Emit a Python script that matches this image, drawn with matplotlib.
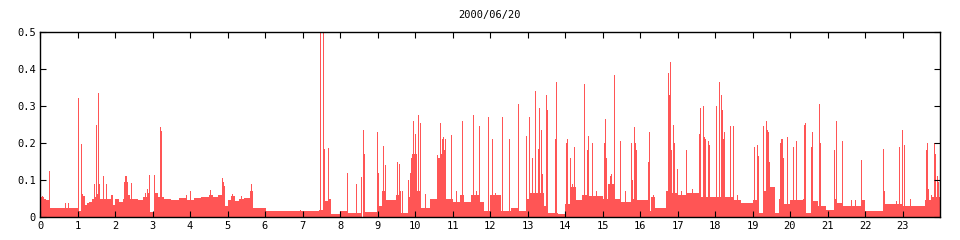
import matplotlib
matplotlib.use("Agg")
import matplotlib.pyplot as plt

title = "2000/06/20"
hour_ticks = list(range(24))
value_ticks = [0, 0.1, 0.2, 0.3, 0.4, 0.5]
value_labels = ["0", "0.1", "0.2", "0.3", "0.4", "0.5"]

# baseline level: (start hour, end hour, value)
seg_start = [0.00, 0.02, 0.10, 0.15, 0.25, 1.01, 1.09, 1.15, 1.20, 1.25, 1.30, 1.38, 1.43, 1.48, 1.51,
             1.60, 1.65, 1.80, 1.90, 1.95, 2.00, 2.10, 2.20, 2.24, 2.35, 2.40, 2.60, 2.75, 2.85, 2.93,
             3.04, 3.15, 3.30, 3.50, 3.70, 3.90, 4.10, 4.30, 4.50, 4.60, 4.75, 4.85, 4.92, 5.00, 5.10,
             5.20, 5.30, 5.45, 5.60, 5.68, 6.02, 7.45, 7.60, 7.67, 7.75, 8.00, 8.18, 8.22, 8.60, 9.00,
             9.05, 9.12, 9.20, 9.50, 9.60, 9.80, 9.92, 10.05, 10.15, 10.40, 10.60, 10.70, 10.80, 11.00,
             11.20, 11.30, 11.50, 11.70, 11.85, 12.00, 12.30, 12.55, 12.75, 12.95, 13.05, 13.45, 13.55,
             13.80, 14.00, 14.15, 14.30, 14.45, 14.60, 15.00, 15.15, 15.30, 15.50, 15.75, 15.90, 16.20,
             16.30, 16.40, 16.70, 16.85, 17.00, 17.25, 17.60, 17.90, 18.50, 18.70, 19.00, 19.15, 19.30,
             19.45, 19.60, 19.70, 19.80, 20.00, 20.35, 20.40, 20.55, 20.75, 20.95, 21.20, 21.25, 21.40,
             21.90, 22.00, 22.48, 22.52, 23.00, 23.60, 23.75]
seg_end = seg_start[1:] + [24.0]
seg_value = [0.026, 0.055, 0.048, 0.045, 0.025, 0.016, 0.063, 0.058, 0.032, 0.037, 0.041, 0.050, 0.055, 0.018, 0.062,
             0.050, 0.050, 0.048, 0.060, 0.032, 0.050, 0.040, 0.050, 0.095, 0.060, 0.050, 0.047, 0.055, 0.065, 0.013,
             0.065, 0.055, 0.050, 0.047, 0.052, 0.045, 0.052, 0.053, 0.060, 0.055, 0.060, 0.085, 0.030, 0.045, 0.058,
             0.042, 0.050, 0.052, 0.070, 0.023, 0.015, 0.020, 0.042, 0.050, 0.008, 0.015, 0.070, 0.010, 0.013, 0.120,
             0.030, 0.070, 0.045, 0.060, 0.012, 0.055, 0.170, 0.070, 0.025, 0.050, 0.160, 0.170, 0.050, 0.040,
             0.060, 0.040, 0.060, 0.040, 0.015, 0.060, 0.015, 0.025, 0.015, 0.050, 0.065, 0.030, 0.012,
             0.008, 0.035, 0.080, 0.045, 0.060, 0.058, 0.050, 0.090, 0.050, 0.040, 0.050, 0.045, 0.015,
             0.055, 0.025, 0.070, 0.065, 0.060, 0.065, 0.055, 0.055, 0.045, 0.038, 0.045, 0.010, 0.070,
             0.080, 0.010, 0.050, 0.035, 0.045, 0.050, 0.010, 0.042, 0.030, 0.018, 0.050, 0.038, 0.030,
             0.045, 0.015, 0.070, 0.035, 0.030, 0.045, 0.055]

# single-sample spikes: hour, value
spike_hour = [0.07, 0.25, 0.68, 0.76, 1.02, 1.10, 1.46, 1.50, 1.56, 1.58, 1.70, 1.76, 2.27, 2.31, 2.45,
              2.80, 2.87, 2.93, 3.05, 3.20, 3.24, 3.90, 4.00, 4.55, 4.88, 4.90, 5.13, 5.38, 5.65, 6.95,
              7.48, 7.56, 7.58, 7.70, 8.19, 8.43, 8.57, 8.62, 8.64, 9.00, 9.16, 9.21, 9.53, 9.58, 9.62,
              9.66, 9.82, 9.88, 9.91, 9.95, 10.00, 10.09, 10.15, 10.28, 10.60, 10.67, 10.73, 10.75, 10.78,
              10.82, 10.98, 11.10, 11.26, 11.28, 11.55, 11.65, 11.72, 11.96, 12.07, 12.15, 12.33, 12.51,
              12.53, 12.76, 12.98, 13.04, 13.06, 13.12, 13.21, 13.30, 13.32, 13.37, 13.40, 13.50, 13.52,
              13.74, 13.77, 14.04, 14.06, 14.15, 14.21, 14.26, 14.52, 14.59, 14.62, 14.72, 14.85, 15.05,
              15.08, 15.10, 15.22, 15.25, 15.31, 15.47, 15.60, 15.76, 15.79, 15.84, 15.88, 15.91, 16.22,
              16.24, 16.35, 16.76, 16.78, 16.79, 16.81, 16.83, 16.88, 16.90, 16.92, 17.00, 17.10, 17.23,
              17.40, 17.58, 17.60, 17.69, 17.71, 17.74, 17.82, 17.85, 18.03, 18.11, 18.16, 18.21, 18.23,
              18.26, 18.40, 18.48, 18.50, 18.60, 19.05, 19.13, 19.15, 19.28, 19.30, 19.36, 19.38, 19.40,
              19.42, 19.46, 19.74, 19.78, 19.80, 19.83, 19.92, 20.09, 20.17, 20.38, 20.40, 20.57, 20.60,
              20.78, 20.80, 21.18, 21.23, 21.25, 21.39, 21.41, 21.65, 21.75, 21.90, 22.49, 22.85, 22.91,
              22.93, 23.00, 23.04, 23.06, 23.21, 23.63, 23.66, 23.70, 23.78, 23.86, 23.88, 23.93, 23.95]
spike_value = [0.058, 0.124, 0.038, 0.038, 0.322, 0.198, 0.090, 0.250, 0.335, 0.090, 0.110, 0.090, 0.110, 0.110, 0.093,
               0.065, 0.077, 0.114, 0.114, 0.244, 0.233, 0.060, 0.070, 0.074, 0.106, 0.095, 0.063, 0.058, 0.088, 0.018,
               0.600, 0.600, 0.185, 0.187, 0.118, 0.088, 0.107, 0.235, 0.169, 0.230, 0.193, 0.140, 0.149, 0.143, 0.070,
               0.070, 0.100, 0.120, 0.160, 0.260, 0.225, 0.275, 0.255, 0.062, 0.167, 0.255, 0.210, 0.215, 0.180,
               0.210, 0.222, 0.070, 0.250, 0.260, 0.277, 0.070, 0.245, 0.270, 0.210, 0.065, 0.270, 0.210,
               0.180, 0.305, 0.220, 0.270, 0.215, 0.160, 0.340, 0.185, 0.295, 0.235, 0.115, 0.330, 0.290,
               0.210, 0.365, 0.200, 0.210, 0.160, 0.090, 0.190, 0.360, 0.180, 0.220, 0.200, 0.070, 0.200,
               0.265, 0.160, 0.110, 0.115, 0.385, 0.205, 0.070, 0.200, 0.100, 0.243, 0.200, 0.180, 0.150,
               0.230, 0.060, 0.390, 0.330, 0.250, 0.420, 0.180, 0.120, 0.250, 0.200, 0.130, 0.070, 0.180,
               0.075, 0.225, 0.295, 0.300, 0.215, 0.210, 0.205, 0.195, 0.300, 0.365, 0.330, 0.290, 0.210,
               0.230, 0.245, 0.190, 0.245, 0.060, 0.190, 0.195, 0.165, 0.245, 0.235, 0.165, 0.260, 0.235,
               0.230, 0.150, 0.200, 0.210, 0.210, 0.160, 0.215, 0.190, 0.205, 0.250, 0.253, 0.190, 0.230,
               0.305, 0.200, 0.180, 0.245, 0.260, 0.205, 0.160, 0.045, 0.045, 0.155, 0.185, 0.043, 0.180,
               0.190, 0.235, 0.195, 0.170, 0.050, 0.180, 0.200, 0.075, 0.060, 0.200, 0.170, 0.110, 0.095]

red = "#ff5555"
mono = "DejaVu Sans Mono"

fig = plt.figure(figsize=(9.6, 2.4), dpi=100)
ax = fig.add_axes([40 / 960, 23 / 240, 900 / 960, 185 / 240])

widths = [e - s for s, e in zip(seg_start, seg_end)]
ax.bar(seg_start, seg_value, width=widths, align="edge", color=red, linewidth=0, antialiased=False)
# one pixel wide impulses (24 h over 900 px)
ax.bar(spike_hour, spike_value, width=24 / 900, color=red, linewidth=0, antialiased=False)

ax.set_xlim(0, 24)
ax.set_ylim(0, 0.5)
ax.set_xticks(hour_ticks)
ax.set_xticklabels([str(h) for h in hour_ticks], fontfamily=mono, fontsize=7.5)
ax.set_yticks(value_ticks)
ax.set_yticklabels(value_labels, fontfamily=mono, fontsize=7.5)
ax.tick_params(direction="in", length=4, width=0.8, top=True, right=True, pad=3)
for sp in ax.spines.values():
    sp.set_linewidth(1.0)
    sp.set_zorder(3)

fig.text(490 / 960, 1 - 15 / 240, title, ha="center", va="center", fontfamily=mono, fontsize=7.5)

fig.savefig("out.png", dpi=100)
